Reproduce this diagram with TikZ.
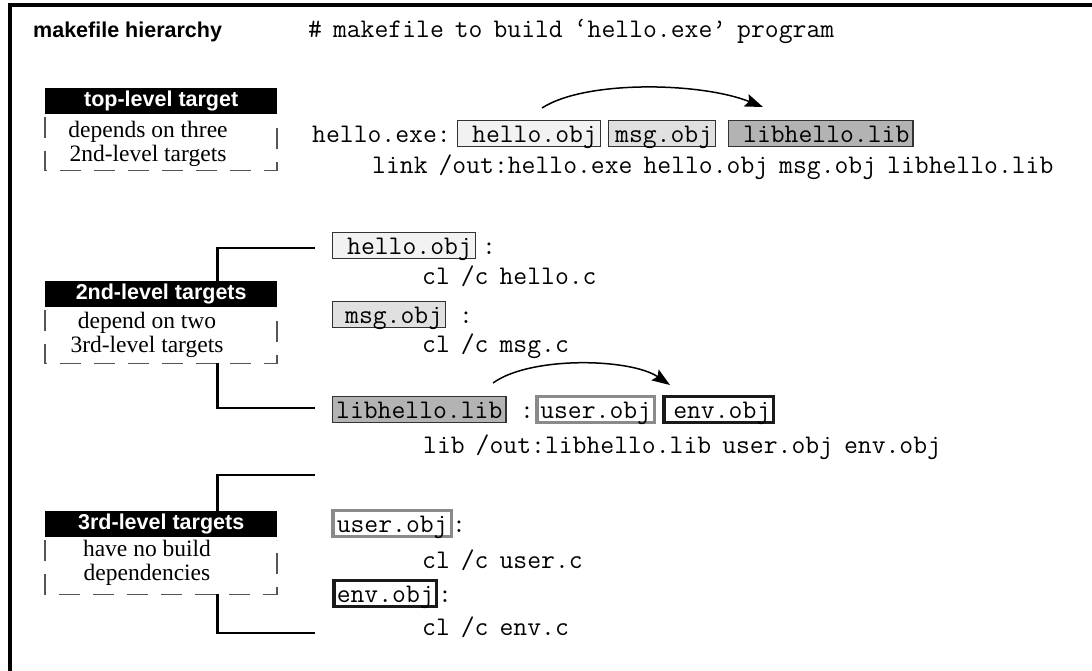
\documentclass[tikz,border=0pt]{standalone}
\usepackage{fontspec}
\setmainfont{Liberation Serif}
\setsansfont{Liberation Sans}
\usetikzlibrary{arrows.meta}
\definecolor{boxA}{HTML}{F2F2F2}
\definecolor{boxB}{HTML}{E0E0E0}
\definecolor{boxC}{HTML}{B3B3B3}
\definecolor{edgeU}{HTML}{8A8A8A}
\definecolor{edgeE}{HTML}{1A1A1A}
\definecolor{dashc}{HTML}{555555}
\newcommand\codesize{\ttfamily\fontsize{26.9}{28}\selectfont\spaceskip=11pt\relax}
\begin{document}
\begin{tikzpicture}[x=1pt,y=-1pt,
  title/.style={font=\sffamily\bfseries\fontsize{21.5}{24}\selectfont, inner sep=0pt},
  code/.style={font=\codesize, inner sep=0pt},
  hdrbox/.style={fill=black, text=white, font=\sffamily\bfseries\fontsize{21.5}{24}\selectfont, minimum width=232pt, minimum height=26pt, inner sep=0pt, anchor=north west},
  desc/.style={font=\fontsize{23.5}{24}\selectfont, align=center, inner sep=0pt},
  dbox/.style={draw=dashc, line width=1.3pt, dash pattern=on 21pt off 13pt},
  conn/.style={line width=2.8pt},
  objbox/.style={code, draw=black!80, line width=1.3pt, text height=20pt, text depth=3pt, inner ysep=1.5pt, inner xsep=3.5pt, anchor=base west},
  thickbox/.style={objbox, line width=3.5pt},
  arr/.style={line width=1.5pt, -{Stealth[length=18pt,width=13pt,inset=3pt]}}
]
\useasboundingbox (0,0) rectangle (1092,670);
\fill[white] (0,0) rectangle (1092,670);

% outer frame
\coordinate (fb) at (9.5,673);
\coordinate (fc) at (9.5,5.3);
\coordinate (fr) at (1095,5.3);
\draw[line width=4pt] (fb) -- (fc) -- (fr);

% titles
\node[title, anchor=base west] (title) at (33,37) {makefile hierarchy};
\node[code, anchor=base west] (hdr) at (308,37) {\# makefile to build ‘hello.exe’ program};

% ---- level boxes ----
\node[hdrbox] (h1) at (45,88) {top-level target};
\draw[dbox] ([yshift=-3pt]h1.south west) -- ++(0,53) -- ++(232,0) -- ++(0,-53);
\node[desc] (d1) at (148,143.5) {depends on three\\2nd-level targets};

\node[hdrbox] (h2) at (45,281) {2nd-level targets};
\draw[dbox] ([yshift=-3pt]h2.south west) -- ++(0,53) -- ++(232,0) -- ++(0,-53);
\node[desc] (d2) at (147,334.5) {depend on two\\3rd-level targets};

\node[hdrbox] (h3) at (45,511) {3rd-level targets};
\draw[dbox] ([yshift=-3pt]h3.south west) -- ++(0,54) -- ++(232,0) -- ++(0,-54);
\node[desc] (d3) at (147,563) {have no build\\dependencies};

% ---- top-level rule ----
\node[code, anchor=base west] (exe) at (312,142) {hello.exe:};
\node[objbox, fill=boxA] (o1) at (457,142) {\hspace{11pt}hello.obj};
\node[objbox, fill=boxB] (o2) at (608,142) {\hspace{3pt}msg.obj};
\node[objbox, fill=boxC] (o3) at (728,142) {\hspace{11pt}libhello.lib};
\node[code, anchor=base west] (link) at (372,173) {link /out:hello.exe hello.obj msg.obj libhello.lib};
\coordinate (a1s) at (542,108);
\coordinate (a1e) at (763,107);
\draw[arr] (a1s) .. controls (585,80) and (700,82) .. (a1e);

% ---- 2nd-level rules ----
\coordinate (c2a) at (315,248);
\coordinate (c2b) at (315,408);
\draw[conn] ([xshift=56pt]h2.north) |- (c2a);
\draw[conn] ([xshift=56pt,yshift=-56pt]h2.south) |- (c2b);

\node[objbox, fill=boxA] (s1) at (332,254) {\hspace{11pt}hello.obj};
\node[code, anchor=base] (s1c) at (489,254) {:};
\node[code, anchor=base west] (s1r) at (422,284) {cl /c hello.c};

\node[objbox, fill=boxB] (s2) at (332,323) {\hspace{9pt}msg.obj\hspace{5pt}};
\node[code, anchor=base] (s2c) at (466,323) {:};
\node[code, anchor=base west] (s2r) at (422,352) {cl /c msg.c};

\node[objbox, fill=boxC] (s3) at (332,418) {libhello.lib};
\node[code, anchor=base] (s3c) at (527,418) {:};
\node[thickbox, draw=edgeU, fill=white] (s3u) at (535,418) {user.obj};
\node[thickbox, draw=edgeE, fill=white] (s3e) at (662,418) {\hspace{6pt}env.obj};
\coordinate (a2s) at (493,383);
\coordinate (a2e) at (670,385);
\draw[arr] (a2s) .. controls (530,356) and (630,358) .. (a2e);
\node[code, anchor=base west] (s3r) at (423,453) {lib /out:libhello.lib user.obj env.obj};

% ---- 3rd-level rules ----
\coordinate (c3a) at (315,475);
\coordinate (c3b) at (315,633);
\draw[conn] ([xshift=56pt]h3.north) |- (c3a);
\draw[conn] ([xshift=56pt,yshift=-57pt]h3.south) |- (c3b);

\node[thickbox, draw=edgeU, fill=white, inner xsep=4pt] (t1) at (331,532) {user.obj};
\node[code, anchor=base] (t1c) at (459,532) {:};
\node[code, anchor=base west] (t1r) at (422,568) {cl /c user.c};

\node[thickbox, draw=edgeE, fill=white, inner xsep=3pt] (t2) at (332,602) {env.obj};
\node[code, anchor=base] (t2c) at (445,602) {:};
\node[code, anchor=base west] (t2r) at (422,635) {cl /c env.c};
\end{tikzpicture}
\end{document}
